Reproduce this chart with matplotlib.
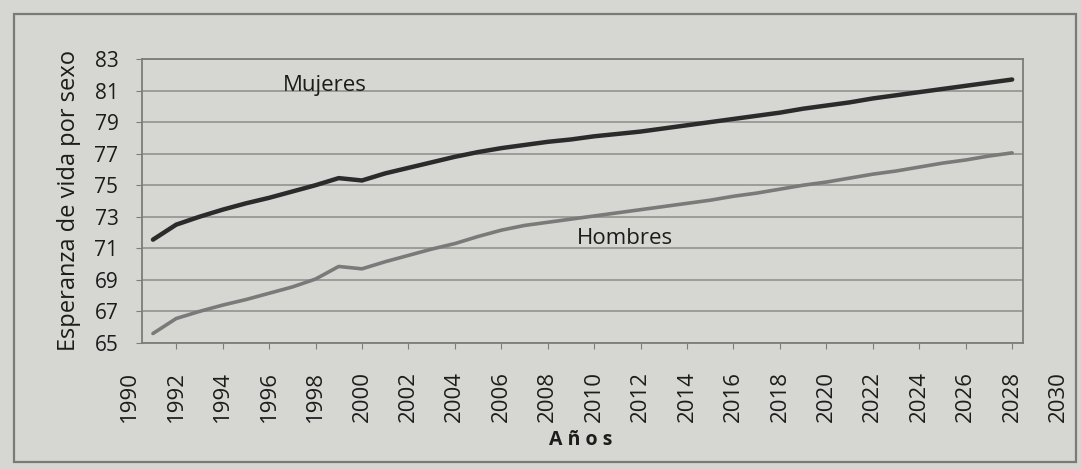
import matplotlib
matplotlib.use("Agg")
import matplotlib.pyplot as plt
from matplotlib.patches import Rectangle

# data
years = list(range(1991, 2029))
mujeres = [71.55, 72.5, 73.0, 73.45, 73.85, 74.2, 74.6, 75.0, 75.45, 75.3,
           75.75, 76.1, 76.45, 76.8, 77.1, 77.35, 77.55, 77.75, 77.9, 78.1,
           78.25, 78.4, 78.6, 78.8, 79.0, 79.2, 79.4, 79.6, 79.85, 80.05,
           80.25, 80.5, 80.7, 80.9, 81.1, 81.3, 81.5, 81.7]
hombres = [65.6, 66.55, 67.0, 67.4, 67.75, 68.15, 68.55, 69.05, 69.85, 69.7,
           70.15, 70.55, 70.95, 71.3, 71.75, 72.15, 72.45, 72.65, 72.85, 73.05,
           73.25, 73.45, 73.65, 73.85, 74.05, 74.3, 74.5, 74.75, 75.0, 75.2,
           75.45, 75.7, 75.9, 76.15, 76.4, 76.6, 76.85, 77.05]
year_ticks = list(range(1990, 2031, 2))
y_ticks = list(range(65, 84, 2))

plt.rcParams['font.family'] = ['Open Sans', 'DejaVu Sans']

bg = '#d6d6d2'
txt = '#1c1c1c'
fig = plt.figure(figsize=(10.81, 4.69), dpi=100, facecolor=bg)
fig.patches.append(Rectangle((0.013, 0.015), 0.982, 0.955, transform=fig.transFigure,
                             fill=False, edgecolor='#7a7a78', linewidth=1.6))

ax = fig.add_axes([0.1314, 0.2687, 0.815, 0.6055])
ax.set_facecolor(bg)
ax.set_xlim(1990.53, 2028.47)
ax.set_ylim(65, 83)

for y in y_ticks:
  ax.axhline(y, color='#8c8c8a', linewidth=1.1, zorder=1)

ax.plot(years, mujeres, color='#2b2b2b', linewidth=3.2, solid_capstyle='round', zorder=3)
ax.plot(years, hombres, color='#7a7a7a', linewidth=2.6, solid_capstyle='round', zorder=3)

for s in ax.spines.values():
  s.set_color('#7c7c7a')
  s.set_linewidth(1.3)

ax.set_yticks(y_ticks)
ax.set_yticklabels([str(v) for v in y_ticks], fontsize=15, color=txt)
ax.tick_params(axis='y', length=4, color='#7c7c7a', pad=13)

ax.set_xticks([t for t in year_ticks if 1990.53 < t < 2028.47])
ax.set_xticklabels([])
ax.tick_params(axis='x', length=4, color='#7c7c7a', direction='out')

# year labels, also those beyond the frame
for t in year_ticks:
  ax.text(t, -0.1, str(t), rotation=90, ha='center', va='top', fontsize=16,
          color=txt, transform=ax.get_xaxis_transform(), clip_on=False)

ax.text(1998.4, 81.35, "Mujeres", fontsize=16, color=txt, ha='center', va='center')
ax.text(2011.33, 71.6, "Hombres", fontsize=16, color=txt, ha='center', va='center')

ax.set_ylabel("Esperanza de vida por sexo", fontsize=17, color=txt, labelpad=10)
fig.text(0.537, 0.062, "A ñ o s", fontsize=14, fontweight='bold', color=txt,
         ha='center', va='center')

plt.savefig("out.png", dpi=100, facecolor=bg)
